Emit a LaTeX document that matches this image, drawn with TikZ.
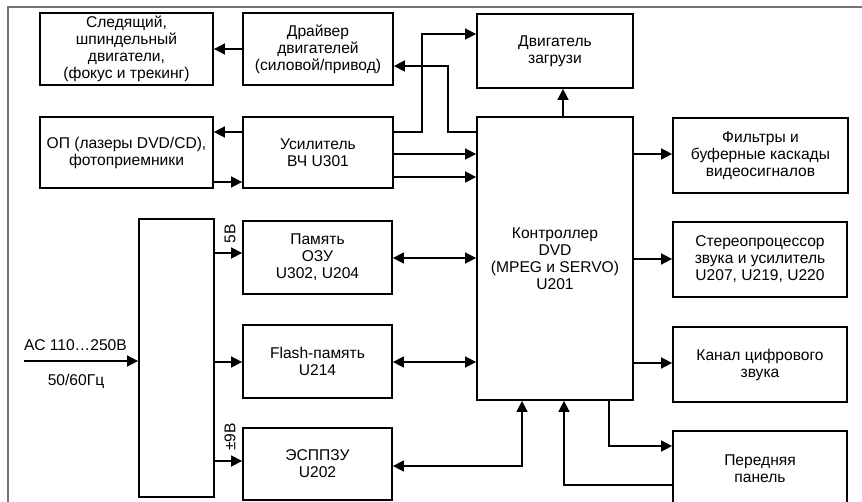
\documentclass[tikz,border=0pt]{standalone}
\usepackage{fontspec}
\setmainfont{Liberation Sans}
\usetikzlibrary{arrows.meta}
\begin{document}
\begin{tikzpicture}[x=1pt,y=-1pt,
  box/.style={draw, line width=1.8pt, inner sep=0pt, align=center,
    font=\fontsize{15.6}{17}\selectfont},
  conn/.style={line width=1.6pt},
  arr/.style={conn, -{Triangle[length=11pt,width=11pt]}},
  darr/.style={conn, {Triangle[length=11pt,width=11pt]}-{Triangle[length=11pt,width=11pt]}},
  lbl/.style={inner sep=0pt, font=\fontsize{15.6}{17}\selectfont},
  frame/.style={draw=black!55, line width=1.2pt}]
\useasboundingbox (0,0) rectangle (862,502);
\clip (0,0) rectangle (862,502);
\fill[white] (0,0) rectangle (862,502);
% outer frame
\draw[frame] (8,510) -- (8,7) -- (870,7);
% boxes
\node[box, minimum width=173pt, minimum height=72pt] (sled) at (126.5,49) {Следящий,\\шпиндельный\\двигатели,\\(фокус и трекинг)};
\node[box, minimum width=150pt, minimum height=72pt] (drv) at (318,49) {Драйвер\\двигателей\\(силовой/привод)};
\node[box, minimum width=156pt, minimum height=74pt] (load) at (555,51) {Двигатель\\загрузи};
\node[box, minimum width=173pt, minimum height=71pt] (op) at (126.5,152.5) {ОП (лазеры DVD/CD),\\фотоприемники};
\node[box, minimum width=150pt, minimum height=71pt] (amp) at (318,152.5) {Усилитель\\ВЧ U301};
\node[box, minimum width=156pt, minimum height=283pt] (ctrl) at (555,258.5) {Контроллер\\DVD\\(MPEG и SERVO)\\U201};
\node[box, minimum width=175pt, minimum height=75pt] (filt) at (760.5,155.5) {Фильтры и\\буферные каскады\\видеосигналов};
\node[box, minimum width=174pt, minimum height=75pt] (stereo) at (760,259.5) {Стереопроцессор\\звука и усилитель\\U207, U219, U220};
\node[box, minimum width=174pt, minimum height=75pt] (chan) at (760,364.5) {Канал цифрового\\звука};
\node[box, minimum width=174pt, minimum height=75pt] (front) at (760,468.5) {Передняя\\панель};
\node[box, minimum width=75pt, minimum height=278pt] (psu) at (176.5,358) {};
\node[box, minimum width=149pt, minimum height=73pt] (ram) at (317.5,257.5) {Память\\ОЗУ\\U302, U204};
\node[box, minimum width=149pt, minimum height=73pt] (flash) at (317.5,361.5) {Flash-память\\U214};
\node[box, minimum width=149pt, minimum height=72pt] (eep) at (317.5,464) {ЭСППЗУ\\U202};
% connectors
\draw[arr] (drv.west) -- (sled.east);
\draw[arr] (ctrl.west |- 0,132) -- (448,132) -- (448,66) -- (drv.east |- 0,66);
\draw[arr] (amp.east |- 0,132) -- (422,132) -- (422,34) -- (load.west |- 0,34);
\draw[arr] (amp.west |- 0,132) -- (op.east |- 0,132);
\draw[arr] (op.east |- 0,182) -- (amp.west |- 0,182);
\draw[arr] (amp.east |- 0,154) -- (ctrl.west |- 0,154);
\draw[arr] (amp.east |- 0,177) -- (ctrl.west |- 0,177);
\draw[arr] (ctrl.north -| 563,0) -- (load.south -| 563,0);
\draw[arr] (ctrl.east |- 0,154) -- (filt.west |- 0,154);
\draw[arr] (ctrl.east |- 0,259) -- (stereo.west |- 0,259);
\draw[arr] (ctrl.east |- 0,363) -- (chan.west |- 0,363);
\draw[arr] (ctrl.south -| 609,0) -- (609,446) -- (front.west |- 0,446);
\draw[arr] (front.west |- 0,485) -- (564,485) -- (ctrl.south -| 564,0);
\draw[darr] (ctrl.south -| 522,0) -- (522,466) -- (eep.east |- 0,466);
\draw[darr] (ram.east |- 0,258) -- (ctrl.west |- 0,258);
\draw[darr] (flash.east |- 0,362) -- (ctrl.west |- 0,362);
\draw[arr] (psu.east |- 0,253) -- (ram.west |- 0,253);
\draw[arr] (psu.east |- 0,362) -- (flash.west |- 0,362);
\draw[arr] (psu.east |- 0,461) -- (eep.west |- 0,461);
\coordinate (acin) at (24,361);
\draw[arr] (acin) -- (psu.west |- acin);
% labels
\node[lbl, rotate=90] (v5) at (230,234) {5В};
\node[lbl, rotate=90] (v9) at (230,437) {±9В};
\node[lbl, anchor=west] (ac) at (24,345) {АС 110…250В};
\node[lbl] (hz) at (76,381) {50/60Гц};
\end{tikzpicture}
\end{document}
